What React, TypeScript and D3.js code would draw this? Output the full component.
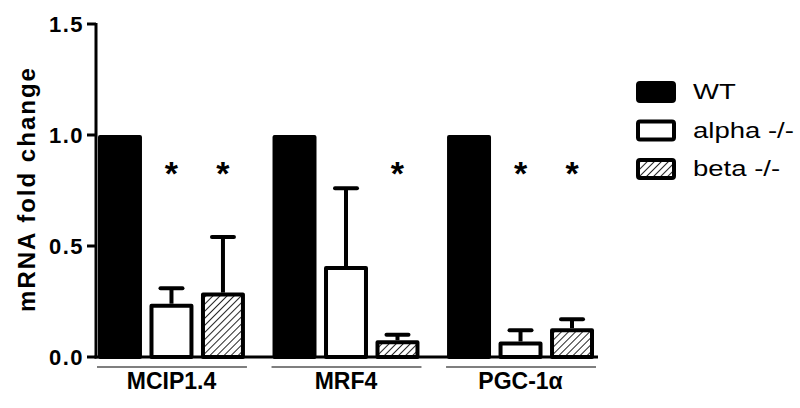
import React from "react";
import * as d3 from "d3";

const width = 800;
const height = 408;

// data
const genes = ["MCIP1.4", "MRF4", "PGC-1α"];
const groups = ["WT", "alpha -/-", "beta -/-"];
const wtMean = [1.0, 1.0, 1.0];
const alphaMean = [0.24, 0.41, 0.07];
const alphaErr = [0.07, 0.35, 0.05];
const betaMean = [0.29, 0.075, 0.13];
const betaErr = [0.25, 0.025, 0.04];
const alphaStar = [true, false, true];
const betaStar = [true, true, true];
const yTicks = [0, 0.5, 1.0, 1.5];

const axisX = 96;
const axisBottom = 357;
const axisTop = 24;

const App = () => {
  const y = d3.scaleLinear().domain([0, 1.5]).range([axisBottom, axisTop]);

  const x0 = d3.scaleBand<string>()
    .domain(genes)
    .range([98, 594])
    .paddingInner(0.158);

  const x1 = d3.scaleBand<string>()
    .domain(groups)
    .range([0, x0.bandwidth()])
    .paddingInner(0.146);

  const fills = ["#000", "#fff", "url(#hatch)"];
  const means = [wtMean, alphaMean, betaMean];
  const errs = [null, alphaErr, betaErr];
  const stars = [null, alphaStar, betaStar];
  const sw = 4;

  return (
    <svg width={width} height={height} style={{ position: "absolute", left: 0, top: 0 }}
      fontFamily="Arial, 'Liberation Sans', sans-serif">
      <defs>
        <pattern id="hatch" width="5" height="5" patternUnits="userSpaceOnUse" patternTransform="rotate(45)">
          <rect width="5" height="5" fill="#fff" />
          <line x1="0" y1="0" x2="0" y2="5" stroke="#000" strokeWidth="1.7" />
        </pattern>
      </defs>
      <rect width={width} height={height} fill="#fff" />

      {/* bars */}
      {genes.map((g, gi) => (
        <g key={g} transform={`translate(${x0(g)},0)`}>
          {groups.map((s, si) => {
            const v = means[si][gi];
            const bx = x1(s)!;
            const bw = x1.bandwidth();
            const cx = bx + bw / 2;
            const e = errs[si];
            const st = stars[si];
            return (
              <g key={s}>
                {e && (
                  <g stroke="#000" strokeWidth={4}>
                    <line x1={cx} x2={cx} y1={y(v)} y2={y(v + e[gi])} />
                    <line x1={cx - 11} x2={cx + 11} y1={y(v + e[gi])} y2={y(v + e[gi])} strokeLinecap="round" />
                  </g>
                )}
                <rect x={bx + sw / 2} y={y(v) + sw / 2} width={bw - sw} height={y(0) - y(v) - sw / 2}
                  fill={fills[si]} stroke="#000" strokeWidth={sw} strokeLinejoin="round" />
                {st && st[gi] && (
                  <text x={cx} y={185} textAnchor="middle" fontSize={34} fontWeight="bold">*</text>
                )}
              </g>
            );
          })}
          <line x1={-1} x2={x0.bandwidth() + 2} y1={367} y2={367} stroke="#555" strokeWidth={1.3} />
          <text x={x0.bandwidth() / 2} y={389} textAnchor="middle" fontSize={23} fontWeight="bold">{g}</text>
        </g>
      ))}

      {/* axes */}
      <line x1={axisX} x2={axisX} y1={axisTop - 1} y2={axisBottom + 1.5} stroke="#000" strokeWidth={3} />
      <line x1={axisX - 1.5} x2={598} y1={axisBottom} y2={axisBottom} stroke="#000" strokeWidth={3} />
      {yTicks.map(t => (
        <g key={t}>
          <line x1={axisX - 9} x2={axisX} y1={y(t)} y2={y(t)} stroke="#000" strokeWidth={3} />
          <text x={axisX - 12} y={y(t) + 8} textAnchor="end" fontSize={22} fontWeight="bold"
            letterSpacing={1.5}>{t.toFixed(1)}</text>
        </g>
      ))}
      <text transform={`translate(35,${189}) rotate(-90)`} textAnchor="middle"
        fontSize={24} fontWeight="bold" letterSpacing={2}>mRNA fold change</text>

      {/* legend */}
      {groups.map((s, i) => (
        <g key={s} transform={`translate(636,${81 + i * 38.5})`}>
          <rect x={2} y={2} width={36} height={18} rx={2} fill={fills[i]} stroke="#000" strokeWidth={4} />
          <text transform="translate(57,18) scale(1.25,1)" fontSize={22}>{s}</text>
        </g>
      ))}
    </svg>
  );
};

export default App;
